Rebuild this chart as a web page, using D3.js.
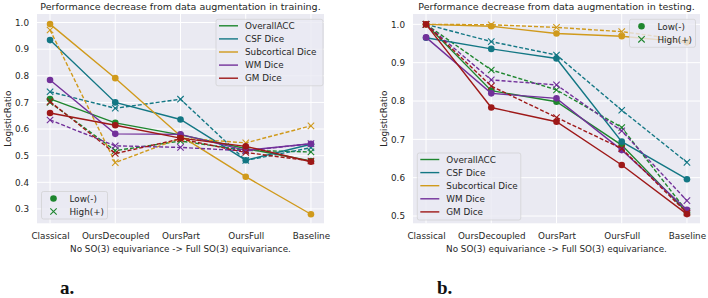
<!DOCTYPE html>
<html>
<head>
<meta charset="utf-8">
<script src="https://cdn.jsdelivr.net/npm/d3@7"></script>
<style>
  html, body { margin: 0; padding: 0; background: #ffffff; }
  svg { display: block; font-family: "DejaVu Sans", sans-serif; }
</style>
</head>
<body>
<div id="chart"></div>
<script>
"use strict";

/* ── Data ── */
const categories  = ["Classical", "OursDecoupled", "OursPart", "OursFull", "Baseline"];
const seriesNames = ["OverallACC", "CSF Dice", "Subcortical Dice", "WM Dice", "GM Dice"];
const markerNames = ["Low(-)", "High(+)"];

// rows follow seriesNames
const trainLow = [
  [0.713, 0.623, 0.578, 0.527, 0.480],
  [0.934, 0.700, 0.636, 0.483, 0.543],
  [0.994, 0.791, 0.574, 0.421, 0.280],
  [0.784, 0.582, 0.580, 0.520, 0.545],
  [0.660, 0.614, 0.566, 0.535, 0.477]
];
const trainHigh = [
  [0.700, 0.519, 0.555, 0.520, 0.514],
  [0.740, 0.678, 0.712, 0.482, 0.530],
  [0.972, 0.474, 0.566, 0.548, 0.612],
  [0.634, 0.537, 0.531, 0.518, 0.545],
  [0.703, 0.508, 0.563, 0.512, 0.480]
];
const trainTicks = [0.3, 0.4, 0.5, 0.6, 0.7, 0.8, 0.9, 1.0];

const testLow = [
  [1.000, 0.827, 0.798, 0.685, 0.510],
  [0.965, 0.936, 0.911, 0.694, 0.596],
  [1.000, 0.995, 0.976, 0.969, 0.953],
  [0.966, 0.820, 0.807, 0.672, 0.516],
  [1.000, 0.783, 0.746, 0.633, 0.505]
];
const testHigh = [
  [1.000, 0.881, 0.829, 0.731, 0.512],
  [1.000, 0.955, 0.920, 0.776, 0.640],
  [1.000, 0.999, 0.992, 0.981, 0.958],
  [1.000, 0.855, 0.842, 0.722, 0.540],
  [1.000, 0.839, 0.757, 0.676, 0.508]
];
const testTicks = [0.5, 0.6, 0.7, 0.8, 0.9, 1.0];

/* ── Style ── */
const PALETTE  = ["#1e862e", "#137784", "#d09a1c", "#72309a", "#9e1818"];
const INK      = "#262626";
const PLOT_BG  = "#eaeaf2";

const svg = d3.select("#chart").append("svg")
  .attr("width", 708).attr("height", 298);

function drawPanel(cfg) {
  const { left, right, top, bottom } = cfg;

  const x = d3.scalePoint().domain(categories).range([left, right]).padding(0.2);
  const y = d3.scaleLinear().domain(cfg.yDomain).range([bottom, top]);

  const g = svg.append("g");

  /* background + grid */
  g.append("rect")
    .attr("x", left).attr("y", top)
    .attr("width", right - left).attr("height", bottom - top)
    .attr("fill", PLOT_BG);

  g.selectAll("line.hgrid").data(cfg.ticks).join("line")
    .attr("class", "hgrid")
    .attr("x1", left).attr("x2", right)
    .attr("y1", d => y(d)).attr("y2", d => y(d))
    .attr("stroke", "#fff").attr("stroke-width", 1);

  g.selectAll("line.vgrid").data(categories).join("line")
    .attr("class", "vgrid")
    .attr("x1", d => x(d)).attr("x2", d => x(d))
    .attr("y1", top).attr("y2", bottom)
    .attr("stroke", "#fff").attr("stroke-width", 1);

  /* axes (labels only, seaborn darkgrid has no spines) */
  const yAxis = d3.axisLeft(y).tickValues(cfg.ticks).tickFormat(d3.format(".1f")).tickSize(0).tickPadding(8);
  const ya = g.append("g").attr("transform", `translate(${left},0)`).call(yAxis);
  ya.select(".domain").remove();
  ya.selectAll("text").attr("fill", INK).attr("font-size", "8.8px").attr("font-family", "DejaVu Sans");

  const xAxis = d3.axisBottom(x).tickSize(0).tickPadding(9);
  const xa = g.append("g").attr("transform", `translate(0,${bottom})`).call(xAxis);
  xa.select(".domain").remove();
  xa.selectAll("text").attr("fill", INK).attr("font-size", "8.8px").attr("font-family", "DejaVu Sans");

  /* titles */
  const cx = (left + right) / 2;
  g.append("text")
    .attr("x", cx).attr("y", 9.5)
    .attr("text-anchor", "middle")
    .attr("fill", INK).attr("font-size", "9.5px")
    .text(cfg.title);

  g.append("text")
    .attr("x", cx).attr("y", 251.5)
    .attr("text-anchor", "middle")
    .attr("fill", INK).attr("font-size", "8.8px")
    .text("No SO(3) equivariance -> Full SO(3) equivariance.");

  g.append("text")
    .attr("transform", `translate(${left - 26},${(top + bottom) / 2}) rotate(-90)`)
    .attr("text-anchor", "middle")
    .attr("fill", INK).attr("font-size", "8.8px")
    .text("LogisticRatio");

  g.append("text")
    .attr("x", cfg.tagX).attr("y", 293.5)
    .attr("font-family", "'Liberation Serif', serif")
    .attr("font-weight", "bold")
    .attr("font-size", "19px")
    .attr("fill", "#111")
    .text(cfg.tag);

  /* series */
  const line = d3.line().x((d, i) => x(categories[i])).y(d => y(d));
  const plot = g.append("g");

  seriesNames.forEach((name, s) => {
    const col = PALETTE[s];
    const low  = cfg.low[s];
    const high = cfg.high[s];

    plot.append("path")
      .datum(low)
      .attr("d", line)
      .attr("fill", "none")
      .attr("stroke", col).attr("stroke-width", 1.4);

    plot.selectAll(null).data(low).join("circle")
      .attr("cx", (d, i) => x(categories[i]))
      .attr("cy", d => y(d))
      .attr("r", 3.3)
      .attr("fill", col);

    plot.append("path")
      .datum(high)
      .attr("d", line)
      .attr("fill", "none")
      .attr("stroke", col).attr("stroke-width", 1.4)
      .attr("stroke-dasharray", "4,2");

    plot.selectAll(null).data(high).join("path")
      .attr("d", (d, i) => {
        const px = x(categories[i]), py = y(d), r = 3.2;
        return `M${px - r},${py - r}L${px + r},${py + r}M${px - r},${py + r}L${px + r},${py - r}`;
      })
      .attr("stroke", col).attr("stroke-width", 1.1)
      .attr("fill", "none");
  });

  /* legends */
  function legendBox(bx, by, bw, bh) {
    return g.append("rect")
      .attr("x", bx).attr("y", by).attr("width", bw).attr("height", bh)
      .attr("rx", 2)
      .attr("fill", PLOT_BG).attr("fill-opacity", 0.8)
      .attr("stroke", "#cccccc").attr("stroke-opacity", 0.8).attr("stroke-width", 0.8);
  }

  const sl = cfg.seriesLegend;
  legendBox(sl.x, sl.y, sl.w, sl.h);
  seriesNames.forEach((name, s) => {
    const ry = sl.y + 6.5 + s * 13.1;
    g.append("line")
      .attr("x1", sl.x + 3).attr("x2", sl.x + 22)
      .attr("y1", ry).attr("y2", ry)
      .attr("stroke", PALETTE[s]).attr("stroke-width", 1.4);
    g.append("text")
      .attr("x", sl.x + 29).attr("y", ry + 3.2)
      .attr("fill", INK).attr("font-size", "8.8px")
      .text(name);
  });

  const ml = cfg.markerLegend;
  legendBox(ml.x, ml.y, ml.w, ml.h);
  markerNames.forEach((name, k) => {
    const ry = ml.y + 7 + k * 13;
    const mx = ml.x + 12;
    if (k === 0) {
      g.append("circle").attr("cx", mx).attr("cy", ry).attr("r", 3.3).attr("fill", PALETTE[0]);
    } else {
      const r = 3.2;
      g.append("path")
        .attr("d", `M${mx - r},${ry - r}L${mx + r},${ry + r}M${mx - r},${ry + r}L${mx + r},${ry - r}`)
        .attr("stroke", PALETTE[0]).attr("stroke-width", 1.1);
    }
    g.append("text")
      .attr("x", ml.x + 28).attr("y", ry + 3.2)
      .attr("fill", INK).attr("font-size", "8.8px")
      .text(name);
  });
}

drawPanel({
  left: 37, right: 324, top: 14, bottom: 223.3,
  yDomain: [0.246, 1.032],
  ticks: trainTicks,
  low: trainLow, high: trainHigh,
  title: "Performance decrease from data augmentation in training.",
  tag: "a.", tagX: 60,
  seriesLegend: { x: 216, y: 19.3, w: 107, h: 66.5 },
  markerLegend: { x: 41.5, y: 191.5, w: 66, h: 27.5 }
});

drawPanel({
  left: 413, right: 700, top: 14, bottom: 223.3,
  yDomain: [0.481, 1.027],
  ticks: testTicks,
  low: testLow, high: testHigh,
  title: "Performance decrease from data augmentation in testing.",
  tag: "b.", tagX: 437,
  seriesLegend: { x: 417.3, y: 153, w: 103.5, h: 67 },
  markerLegend: { x: 629.5, y: 19.3, w: 66, h: 28 }
});
</script>
</body>
</html>
